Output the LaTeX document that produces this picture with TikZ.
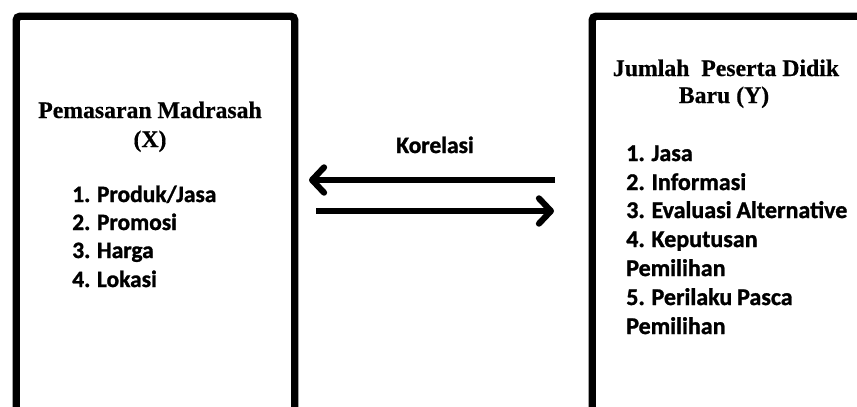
\documentclass[tikz,border=0pt]{standalone}
\usepackage{fontspec}
\setmainfont{Liberation Serif}[BoldFeatures={FakeBold=0.6}]
\newfontfamily\listfont{Carlito}[WordSpace=0.9,BoldFeatures={FakeBold=1.2}]
\usetikzlibrary{arrows.meta}
\begin{document}
\begin{tikzpicture}[x=0.75pt,y=-0.75pt,
  boxline/.style={draw=black,line width=5.6pt,rounded corners=3pt},
  titletext/.style={font=\fontsize{17.8}{20}\selectfont\bfseries,anchor=base,inner sep=0pt},
  listtext/.style={font=\listfont\fontsize{17.6}{18}\selectfont\bfseries,anchor=base west,inner sep=0pt},
  listtextY/.style={listtext,font=\listfont\fontsize{18}{18}\selectfont\bfseries},
  arrowline/.style={line width=4.6pt,-{Straight Barb[length=9pt,width=19pt,line cap=round,line join=round]}},
]
\useasboundingbox (0,0) rectangle (857,407);
\clip (0,0) rectangle (857,407);
\fill[white] (0,0) rectangle (857,407);
% boxes
\node[boxline,inner sep=0pt,minimum width=278.5*0.75pt,minimum height=500*0.75pt,anchor=north west] (boxX) at (12.5,12.5) {};
\node[boxline,inner sep=0pt,minimum width=320*0.75pt,minimum height=500*0.75pt,anchor=north west] (boxY) at (588.5,12.5) {};
% left title
\node[titletext] (tx1) at (150,118) {Pemasaran Madrasah};
\node[titletext] (tx2) at (150,147) {(X)};
% left list
\node[listtext] (l1) at (72,202) {1. Produk/Jasa};
\node[listtext] (l2) at (72,230) {2. Promosi};
\node[listtext] (l3) at (72,258) {3. Harga};
\node[listtext] (l4) at (72,287) {4. Lokasi};
% right title
\node[titletext] (ty1) at (726,76) {Jumlah\ \ Peserta Didik};
\node[titletext] (ty2) at (724,103) {Baru (Y)};
% right list
\node[listtextY] (r1) at (626,161) {1. Jasa};
\node[listtextY] (r2) at (626,190) {2. Informasi};
\node[listtextY] (r3) at (626,218) {3. Evaluasi Alternative};
\node[listtextY] (r4) at (626,247) {4. Keputusan};
\node[listtextY] (r5) at (626,276) {Pemilihan};
\node[listtextY] (r6) at (626,305) {5. Perilaku Pasca};
\node[listtextY] (r7) at (626,334) {Pemilihan};
% correlation
\node[listtextY,anchor=base,font=\listfont\fontsize{17.6}{18}\selectfont\bfseries] (kor) at (435,153) {Korelasi};
\coordinate (a1s) at (555,180);
\coordinate (a1e) at (309,180);
\coordinate (a2s) at (316,211);
\coordinate (a2e) at (554,211);
\draw[arrowline] (a1s) -- (a1e);
\draw[arrowline] (a2s) -- (a2e);
\end{tikzpicture}
\end{document}
